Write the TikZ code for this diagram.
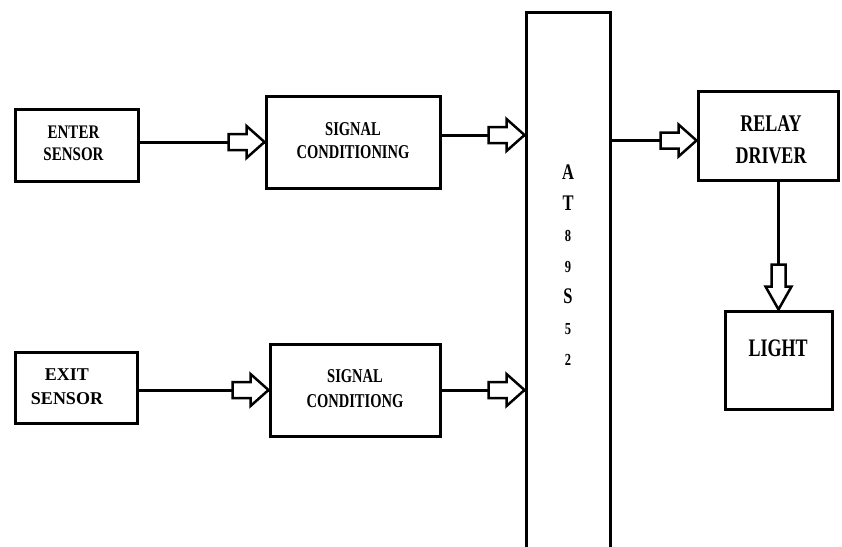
\documentclass[tikz,border=0pt]{standalone}
\usepackage{fontspec}
\setmainfont{Liberation Serif}
\usepackage{graphicx}
\newcommand{\lbl}[4]{\scalebox{1}[#1]{\fontsize{#2}{#3}\selectfont\bfseries\begin{tabular}{@{}c@{}}#4\end{tabular}}}
\newcommand{\hhead}[1]{\draw[headline] (#1) -- ++(-18,-16) -- ++(0,8) -- ++(-18,0) -- ++(0,16) -- ++(18,0) -- ++(0,8) -- cycle;}
\newcommand{\vhead}[1]{\draw[headline] (#1) -- ++(-13,-23) -- ++(6,0) -- ++(0,-22) -- ++(14,0) -- ++(0,22) -- ++(6,0) -- cycle;}
\begin{document}
\begin{tikzpicture}[x=1pt,y=-1pt,
  box/.style={draw,line width=3pt,inner sep=0pt,rectangle},
  conn/.style={line width=3pt},
  headline/.style={line width=2.5pt,fill=white,line join=miter}]
\useasboundingbox (0,0) rectangle (842,546);
\clip (0,0) rectangle (842,546);
\fill[white] (0,0) rectangle (842,546);

\node[box,minimum width=123pt,minimum height=72pt] (enter) at (76.5,145)
  {\lbl{1.28}{15}{17.2}{ENTER\\SENSOR}\hspace*{6pt}};
\node[box,minimum width=174pt,minimum height=92pt] (sc1) at (353,142)
  {\lbl{1.35}{14.5}{17}{SIGNAL\\CONDITIONING}};
\node[box,minimum width=122pt,minimum height=71pt] (exit) at (76,387.5)
  {\lbl{1.0}{18}{24}{EXIT\\SENSOR}\hspace*{18pt}};
\node[box,minimum width=170pt,minimum height=92pt] (sc2) at (355,390)
  {\lbl{1.35}{14.5}{18.5}{SIGNAL\\CONDITIONG}};
\node[box,minimum width=84pt,minimum height=588pt] (at) at (568,306) {};
\node (atlbl) at (568,266)
  {\scalebox{1}[1.35]{\bfseries\fontsize{16.5}{23}\selectfont\begin{tabular}{@{}c@{}}A\\
   T\\ \fontsize{12.5}{23}\selectfont 8\\ \fontsize{12.5}{23}\selectfont 9\\
   S\\ \fontsize{12.5}{23}\selectfont 5\\ \fontsize{12.5}{23}\selectfont 2\end{tabular}}};
\node[box,minimum width=140pt,minimum height=89pt] (relay) at (768,135.5) {};
\node[inner sep=0pt] (relaylbl) at (771,141) {\lbl{1.33}{18}{24}{RELAY\\DRIVER}};
\node[box,minimum width=107pt,minimum height=98pt] (light) at (778.5,360) {};
\node[inner sep=0pt] (lightlbl) at (778,350) {\lbl{1.4}{18}{24}{LIGHT}};

% connectors
\draw[conn] (enter.east |- sc1.west) -- (sc1.west);
\hhead{sc1.west}
\coordinate (a1) at ([yshift=7pt]sc1.east);
\draw[conn] (a1) -- (a1 -| at.west);
\hhead{a1 -| at.west}
\draw[conn] (exit.east |- sc2.west) -- (sc2.west);
\hhead{sc2.west}
\draw[conn] (sc2.east) -- (sc2.east -| at.west);
\hhead{sc2.east -| at.west}
\coordinate (r1) at ([yshift=-5pt]relay.west);
\draw[conn] (r1 -| at.east) -- (r1);
\hhead{r1}
\draw[conn] (light.north |- relay.south) -- (light.north);
\vhead{light.north}
\end{tikzpicture}
\end{document}
